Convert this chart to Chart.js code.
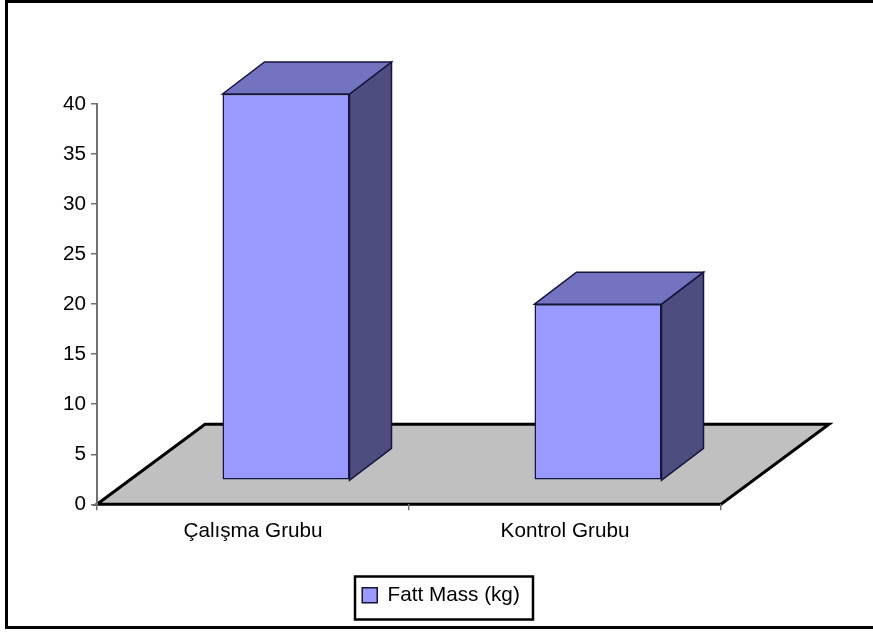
<!DOCTYPE html>
<html>
<head>
<meta charset="utf-8">
<title>Fatt Mass</title>
<script src="https://cdn.jsdelivr.net/npm/chart.js@4"></script>
<style>
  html, body { margin: 0; padding: 0; background: #fff; }
  #wrap { position: relative; width: 873px; height: 632px; }
</style>
</head>
<body>
<div id="wrap"><canvas id="fatChart" width="873" height="632"></canvas></div>
<script>
const categories = ['Çalışma Grubu', 'Kontrol Grubu'];
const seriesName = 'Fatt Mass (kg)';
const fatMass = [38.6, 17.6];
const yTicks = [0, 5, 10, 15, 20, 25, 30, 35, 40];

const FRONT = '#9999ff';
const TOP = '#7373bf';
const SIDE = '#4d4d80';
const EDGE = '#14143c';
const AXIS = '#707070';
const FONT = '"Liberation Sans", Arial, sans-serif';

// pseudo-3D offsets, in pixels
const floorDepth = { x: 108, y: 80 };
const barShift = { x: 33, y: 24 };
const barDepth = { x: 42, y: 32 };

function poly(ctx, pts, fill, stroke, lw) {
    ctx.beginPath();
    pts.forEach((p, i) => (i ? ctx.lineTo(p[0], p[1]) : ctx.moveTo(p[0], p[1])));
    ctx.closePath();
    if (fill) { ctx.fillStyle = fill; ctx.fill(); }
    if (stroke) { ctx.strokeStyle = stroke; ctx.lineWidth = lw; ctx.lineJoin = 'miter'; ctx.stroke(); }
}

const box3d = {
    id: 'box3d',
    // the legend sits in its own box under the axis
    afterLayout(chart) {
        const legend = chart.legend;
        legend.left = 352;
        legend.right = 530;
        legend.top = 575;
        legend.bottom = 618;
    },
    // outer frame and the grey floor sit behind everything
    beforeDraw(chart) {
        const { ctx, chartArea: a } = chart;
        ctx.save();
        ctx.fillStyle = '#000';
        ctx.fillRect(5, 0, 868, 3);
        ctx.fillRect(5, 0, 3, 629);
        ctx.fillRect(5, 626, 868, 3);
        poly(ctx, [
            [a.left, a.bottom],
            [a.left + floorDepth.x, a.bottom - floorDepth.y],
            [a.right + floorDepth.x, a.bottom - floorDepth.y],
            [a.right, a.bottom]
        ], '#c0c0c0', '#000', 3);
        ctx.restore();
    },
    // side and top faces, then shift the library's own bars onto the floor
    beforeDatasetDraw(chart, args) {
        const { ctx } = chart;
        const base = chart.scales.y.getPixelForValue(0) - barShift.y;
        ctx.save();
        args.meta.data.forEach((bar) => {
            const l = bar.x - bar.width / 2 + barShift.x;
            const r = bar.x + bar.width / 2 + barShift.x;
            const t = bar.y - barShift.y;
            poly(ctx, [[r, t], [r + barDepth.x, t - barDepth.y], [r + barDepth.x, base - barDepth.y], [r, base]], SIDE, EDGE, 1.5);
            poly(ctx, [[l, t], [l + barDepth.x, t - barDepth.y], [r + barDepth.x, t - barDepth.y], [r, t]], TOP, EDGE, 1.5);
        });
        ctx.translate(barShift.x, -barShift.y);
    },
    afterDatasetDraw(chart) {
        chart.ctx.restore();
    },
    afterDraw(chart) {
        const { ctx } = chart;
        ctx.save();
        ctx.strokeStyle = '#000';
        ctx.lineWidth = 2.5;
        ctx.strokeRect(355, 576.5, 178, 43);
        ctx.restore();
    }
};

new Chart(document.getElementById('fatChart').getContext('2d'), {
    type: 'bar',
    data: {
        labels: categories,
        datasets: [{
            label: seriesName,
            data: fatMass,
            backgroundColor: FRONT,
            borderColor: EDGE,
            borderWidth: 1.5,
            borderSkipped: false,
            barPercentage: 1,
            categoryPercentage: 127 / 312,
            clip: false
        }]
    },
    options: {
        responsive: false,
        animation: false,
        layout: { padding: { top: 104, right: 152, left: 0, bottom: 0 } },
        scales: {
            x: {
                grid: { drawOnChartArea: false, offset: true, color: AXIS, lineWidth: 1.5, tickLength: 6, tickColor: AXIS },
                border: { display: false },
                ticks: { color: '#000', font: { family: FONT, size: 20.7 }, padding: 9 },
                afterFit(scale) { scale.height = 87; }
            },
            y: {
                min: 0,
                max: 40,
                afterBuildTicks(scale) { scale.ticks = yTicks.map((v) => ({ value: v })); },
                grid: { drawOnChartArea: false, color: AXIS, lineWidth: 1.5, tickLength: 6, tickColor: AXIS },
                border: { color: AXIS, width: 2 },
                ticks: { color: '#000', font: { family: FONT, size: 20.7 }, padding: 5 },
                afterFit(scale) { scale.width = 97; }
            }
        },
        plugins: {
            tooltip: { enabled: false },
            legend: {
                position: 'bottom',
                align: 'center',
                labels: {
                    boxWidth: 15,
                    boxHeight: 15,
                    padding: 10,
                    color: '#000',
                    font: { family: FONT, size: 20.7 }
                }
            }
        }
    },
    plugins: [box3d]
});
</script>
</body>
</html>
